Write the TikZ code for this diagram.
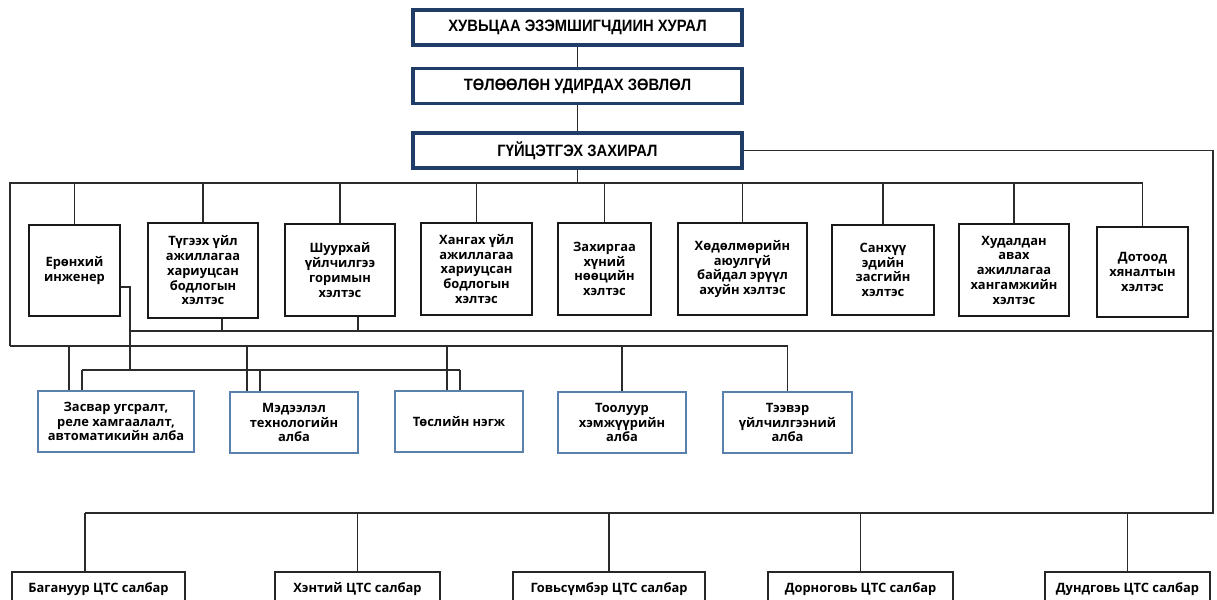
\documentclass[tikz,border=0pt]{standalone}
\usepackage{fontspec}
\setmainfont{Open Sans}
\newfontfamily\narrowfont[FakeStretch=0.9]{Liberation Sans}
\definecolor{navy}{HTML}{1F3D66}
\definecolor{steel}{HTML}{5A80AE}
\definecolor{wire}{HTML}{2B2B2B}
\tikzset{
  topbox/.style={draw=navy, line width=2.6pt, minimum width=9.87cm, minimum height=1.05cm,
    font=\narrowfont\bfseries\fontsize{14}{16}\selectfont},
  dept/.style={draw=black!90, line width=2.2pt, align=center, inner sep=0pt,
    font=\bfseries\fontsize{11}{12.6}\selectfont},
  unit/.style={draw=steel, line width=1.1pt, align=center, inner sep=0pt, minimum height=1.83cm,
    font=\bfseries\fontsize{11}{12.6}\selectfont},
  branch/.style={draw=black!85, line width=1.1pt, inner sep=0pt, minimum height=1.02cm,
    font=\bfseries\fontsize{11}{12.6}\selectfont},
  wire/.style={draw=wire, line width=1.4pt}
}
\begin{document}
\begin{tikzpicture}[x=0.03cm, y=-0.03cm]
    \useasboundingbox (0,0) rectangle (1217,600);
    \clip (0,0) rectangle (1217,600);
    \fill[white] (0,0) rectangle (1217,600);

    \node[topbox] (hural) at (577.5,27.5) {ХУВЬЦАА ЭЗЭМШИГЧДИИН ХУРАЛ};
    \node[topbox] (zovlol) at (577.5,86) {ТӨЛӨӨЛӨН УДИРДАХ ЗӨВЛӨЛ};
    \node[topbox] (zahiral) at (577.5,150.5) {ГҮЙЦЭТГЭХ ЗАХИРАЛ};

    \node[dept, minimum width=2.73cm, minimum height=2.73cm] (injener) at (74.5,270.5) {Ерөнхий\\инженер};
    \node[dept, minimum width=3.3cm, minimum height=2.85cm] (tugeeh) at (203,270.5) {Түгээх үйл\\ажиллагаа\\хариуцсан\\бодлогын\\хэлтэс};
    \node[dept, minimum width=3.3cm, minimum height=2.76cm] (shuurhai) at (340,270) {Шуурхай\\үйлчилгээ\\горимын\\хэлтэс};
    \node[dept, minimum width=3.33cm, minimum height=2.76cm] (hangah) at (476.5,269) {Хангах үйл\\ажиллагаа\\хариуцсан\\бодлогын\\хэлтэс};
    \node[dept, minimum width=2.79cm, minimum height=2.76cm] (zahirgaa) at (604.5,269) {Захиргаа\\хүний\\нөөцийн\\хэлтэс};
    \node[dept, minimum width=3.87cm, minimum height=2.76cm] (hodolmor) at (742.5,269) {Хөдөлмөрийн\\аюулгүй\\байдал эрүүл\\ахуйн хэлтэс};
    \node[dept, minimum width=3.06cm, minimum height=2.7cm] (sanhuu) at (883,270) {Санхүү\\эдийн\\засгийн\\хэлтэс};
    \node[dept, minimum width=3.3cm, minimum height=2.76cm] (hudaldan) at (1014,270) {Худалдан\\авах\\ажиллагаа\\хангамжийн\\хэлтэс};
    \node[dept, minimum width=2.73cm, minimum height=2.7cm] (dotood) at (1142.5,272) {Дотоод\\хяналтын\\хэлтэс};

    \node[unit, minimum width=4.68cm] (zasvar) at (116,421.5) {Засвар угсралт,\\реле хамгаалалт,\\автоматикийн алба};
    \node[unit, minimum width=3.84cm] (medeelel) at (294,422.5) {Мэдээлэл\\технологийн\\алба};
    \node[unit, minimum width=3.84cm] (tosol) at (459,421.5) {Төслийн нэгж};
    \node[unit, minimum width=3.84cm] (tooluur) at (622,422.5) {Тоолуур\\хэмжүүрийн\\алба};
    \node[unit, minimum width=3.87cm] (teever) at (787.5,422.5) {Тээвэр\\үйлчилгээний\\алба};

    \node[branch, minimum width=5.19cm] (baganuur) at (98.5,589) {Багануур ЦТС салбар};
    \node[branch, minimum width=4.95cm] (hentii) at (357.5,589) {Хэнтий ЦТС салбар};
    \node[branch, minimum width=5.76cm] (govisumber) at (609,589) {Говьсүмбэр ЦТС салбар};
    \node[branch, minimum width=5.55cm] (dornogovi) at (860.5,589) {Дорноговь ЦТС салбар};
    \node[branch, minimum width=4.95cm] (dundgovi) at (1127.5,589) {Дундговь ЦТС салбар};

    \coordinate (tl) at (10,183);
    \coordinate (bl) at (10,346);
    \coordinate (rr) at (1213,513);
    \coordinate (sm) at (130,331);
    \coordinate (e1) at (130,287);
    \coordinate (e2) at (130,370);
    \coordinate (d1) at (222,331);
    \coordinate (d2) at (358,331);
    \coordinate (z1) at (69,346);
    \coordinate (m1) at (247,346);
    \coordinate (t1) at (447,346);
    \coordinate (z2) at (82,370);
    \coordinate (m2) at (260,370);
    \coordinate (t2) at (460,370);
    \coordinate (g1) at (85,513);

    \draw[wire] (hural) -- (zovlol);
    \draw[wire] (zovlol) -- (zahiral);
    \draw[wire] (zahiral) -- (zahiral.south |- tl);
    \draw[wire] (zahiral.east) -- (zahiral.east -| rr) -- (rr) -- (g1);
    \draw[wire] (bl) -- (tl) -- (tl -| dotood.north);
    \foreach \d in {injener,tugeeh,shuurhai,hangah,zahirgaa,hodolmor,sanhuu,hudaldan,dotood}
      \draw[wire] (\d.north) -- (\d.north |- tl);
    \draw[wire] (sm) -- (sm -| rr);
    \draw[wire] (d1 |- tugeeh.south) -- (d1);
    \draw[wire] (d2 |- shuurhai.south) -- (d2);
    \draw[wire] (injener.east |- e1) -- (e1) -- (e2);
    \draw[wire] (bl) -- (bl -| teever.north);
    \draw[wire] (z2) -- (t2);
    \foreach \c/\u in {z1/zasvar,m1/medeelel,t1/tosol,z2/zasvar,m2/medeelel,t2/tosol}
      \draw[wire] (\c) -- (\c |- \u.north);
    \draw[wire] (tooluur.north) -- (tooluur.north |- bl);
    \draw[wire] (teever.north) -- (teever.north |- bl);
    \draw[wire] (g1) -- (g1 |- baganuur.north);
    \foreach \b in {hentii,govisumber,dornogovi,dundgovi}
      \draw[wire] (\b.north) -- (\b.north |- rr);
\end{tikzpicture}
\end{document}
